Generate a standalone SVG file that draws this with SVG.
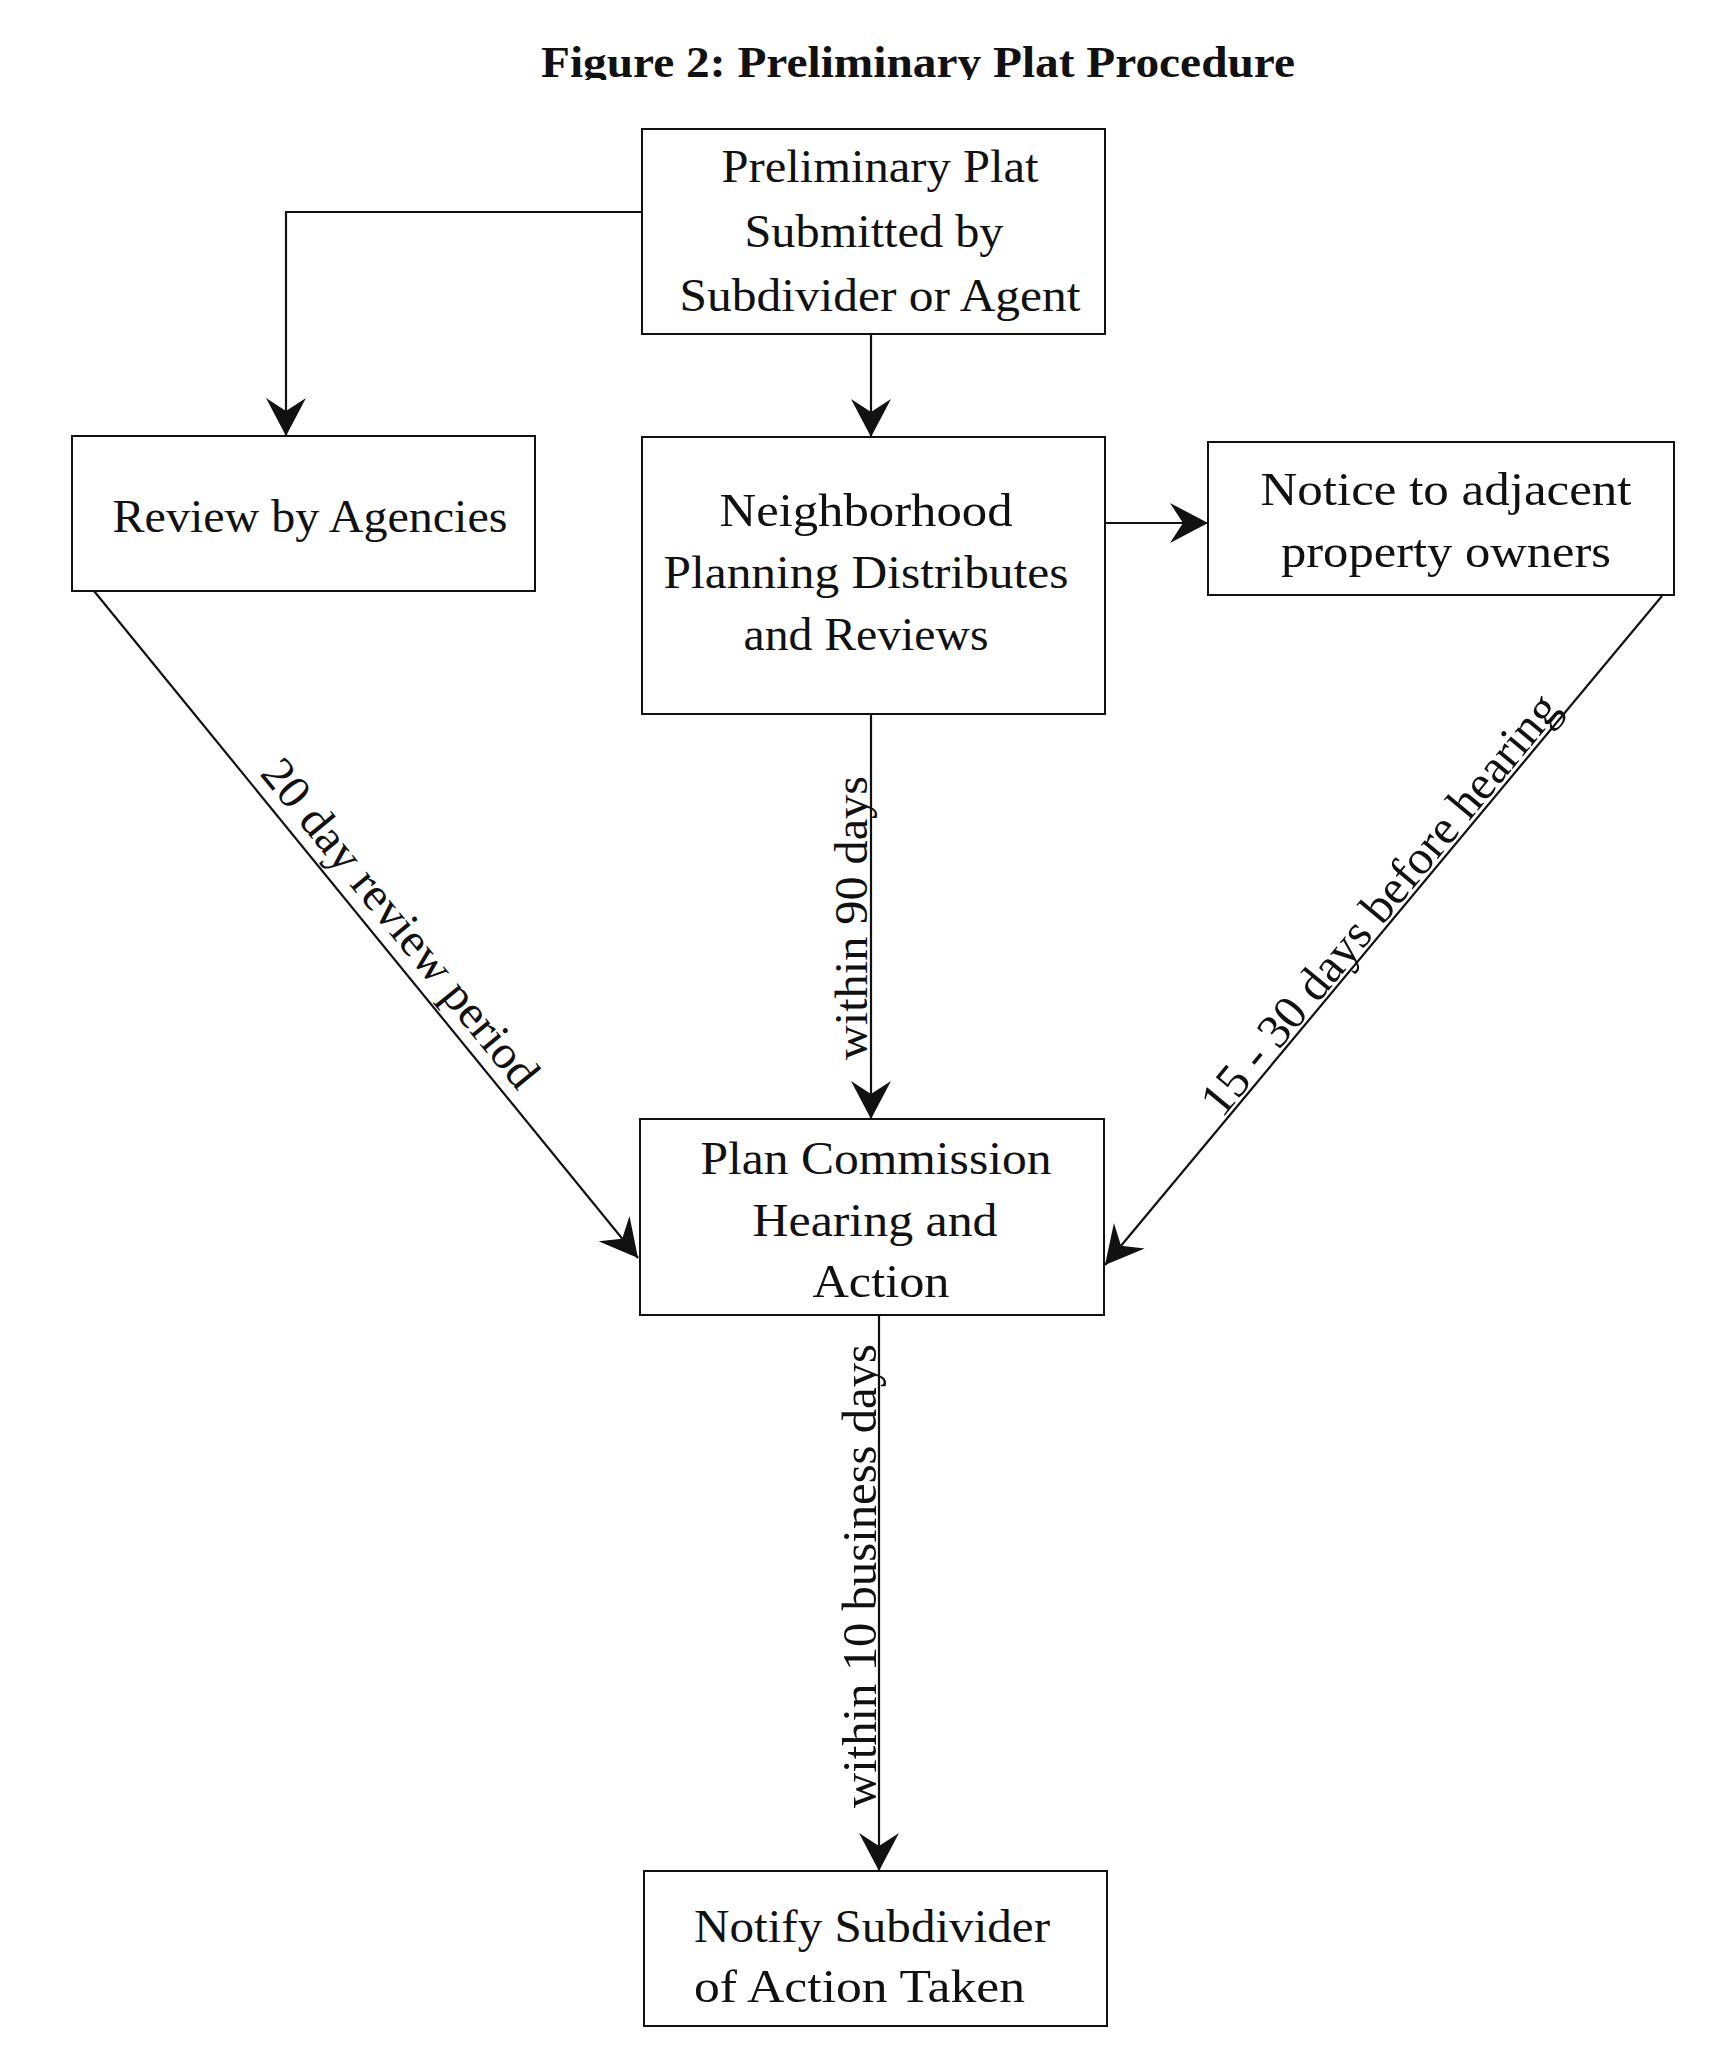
<svg xmlns="http://www.w3.org/2000/svg" width="1732" height="2050" viewBox="0 0 1732 2050">
<style>
.box{fill:#fff;stroke:#111;stroke-width:2}
.t{font-family:"Liberation Serif","Times New Roman",serif;font-size:46px;fill:#111}
.m{text-anchor:middle}
.title{font-family:"Liberation Serif","Times New Roman",serif;font-size:44px;font-weight:bold;fill:#111;text-anchor:middle}
.c{fill:none;stroke:#111;stroke-width:2.2}
.lbl{font-family:"Liberation Serif","Times New Roman",serif;font-size:47px;fill:#111}
</style>
<defs>
<marker id="ah" viewBox="-40 -21 42 42" refX="0" refY="0" markerWidth="42" markerHeight="42" markerUnits="userSpaceOnUse" orient="auto">
<path d="M0,0 L-38,-20 L-25,0 L-38,20 Z" fill="#111"/>
</marker>
<clipPath id="tc"><rect x="0" y="0" width="1732" height="80"/></clipPath>
</defs>
<rect x="0" y="0" width="1732" height="2050" fill="#fff"/>
<g id="title" clip-path="url(#tc)">
<text class="title" x="918" y="77" textLength="754" lengthAdjust="spacingAndGlyphs">Figure 2: Preliminary Plat Procedure</text>
</g>
<g id="connectors">
<path class="c" d="M642,212 H286 V436" marker-end="url(#ah)"/>
<path class="c" d="M871,334 V437" marker-end="url(#ah)"/>
<path class="c" d="M1106,523 H1208" marker-end="url(#ah)"/>
<path class="c" d="M94,591 L638,1258" marker-end="url(#ah)"/>
<path class="c" d="M1662,596 L1105,1265" marker-end="url(#ah)"/>
<path class="c" d="M871,714 V1119" marker-end="url(#ah)"/>
<path class="c" d="M879,1315 V1871" marker-end="url(#ah)"/>
<text class="lbl" x="259" y="774" transform="rotate(50.8 259 774)" textLength="410" lengthAdjust="spacingAndGlyphs">20 day review period</text>
<text class="lbl" x="1222" y="1119" transform="rotate(-50.3 1222 1119)" textLength="532" lengthAdjust="spacingAndGlyphs" style="font-size:48px">15 - 30 days before hearing</text>
<text class="lbl" x="867" y="1060" transform="rotate(-90 867 1060)" textLength="284" lengthAdjust="spacingAndGlyphs">within 90 days</text>
<text class="lbl" x="876" y="1808" transform="rotate(-90 876 1808)" textLength="464" lengthAdjust="spacingAndGlyphs" style="font-size:48px">within 10 business days</text>
</g>
<g id="n1">
<rect class="box" x="642" y="129" width="463" height="205"/>
<text class="t m" x="880" y="182" textLength="317" lengthAdjust="spacingAndGlyphs">Preliminary Plat</text>
<text class="t m" x="874" y="247" textLength="259" lengthAdjust="spacingAndGlyphs">Submitted by</text>
<text class="t m" x="880" y="311" textLength="401" lengthAdjust="spacingAndGlyphs">Subdivider or Agent</text>
</g>
<g id="n2">
<rect class="box" x="72" y="436" width="463" height="155"/>
<text class="t m" x="310" y="532" textLength="395" lengthAdjust="spacingAndGlyphs">Review by Agencies</text>
</g>
<g id="n3">
<rect class="box" x="642" y="437" width="463" height="277"/>
<text class="t m" x="866" y="526" textLength="293" lengthAdjust="spacingAndGlyphs">Neighborhood</text>
<text class="t m" x="866" y="588" textLength="405" lengthAdjust="spacingAndGlyphs">Planning Distributes</text>
<text class="t m" x="866" y="650" textLength="245" lengthAdjust="spacingAndGlyphs">and Reviews</text>
</g>
<g id="n4">
<rect class="box" x="1208" y="442" width="466" height="153"/>
<text class="t m" x="1446" y="505" textLength="371" lengthAdjust="spacingAndGlyphs">Notice to adjacent</text>
<text class="t m" x="1446" y="567" textLength="330" lengthAdjust="spacingAndGlyphs">property owners</text>
</g>
<g id="n5">
<rect class="box" x="640" y="1119" width="464" height="196"/>
<text class="t m" x="876" y="1174" textLength="351" lengthAdjust="spacingAndGlyphs">Plan Commission</text>
<text class="t m" x="875" y="1236" textLength="245" lengthAdjust="spacingAndGlyphs">Hearing and</text>
<text class="t m" x="881" y="1297" textLength="137" lengthAdjust="spacingAndGlyphs">Action</text>
</g>
<g id="n6">
<rect class="box" x="644" y="1871" width="463" height="155"/>
<text class="t" x="694" y="1942" textLength="356" lengthAdjust="spacingAndGlyphs">Notify Subdivider</text>
<text class="t" x="694" y="2002" textLength="331" lengthAdjust="spacingAndGlyphs">of Action Taken</text>
</g>
</svg>
